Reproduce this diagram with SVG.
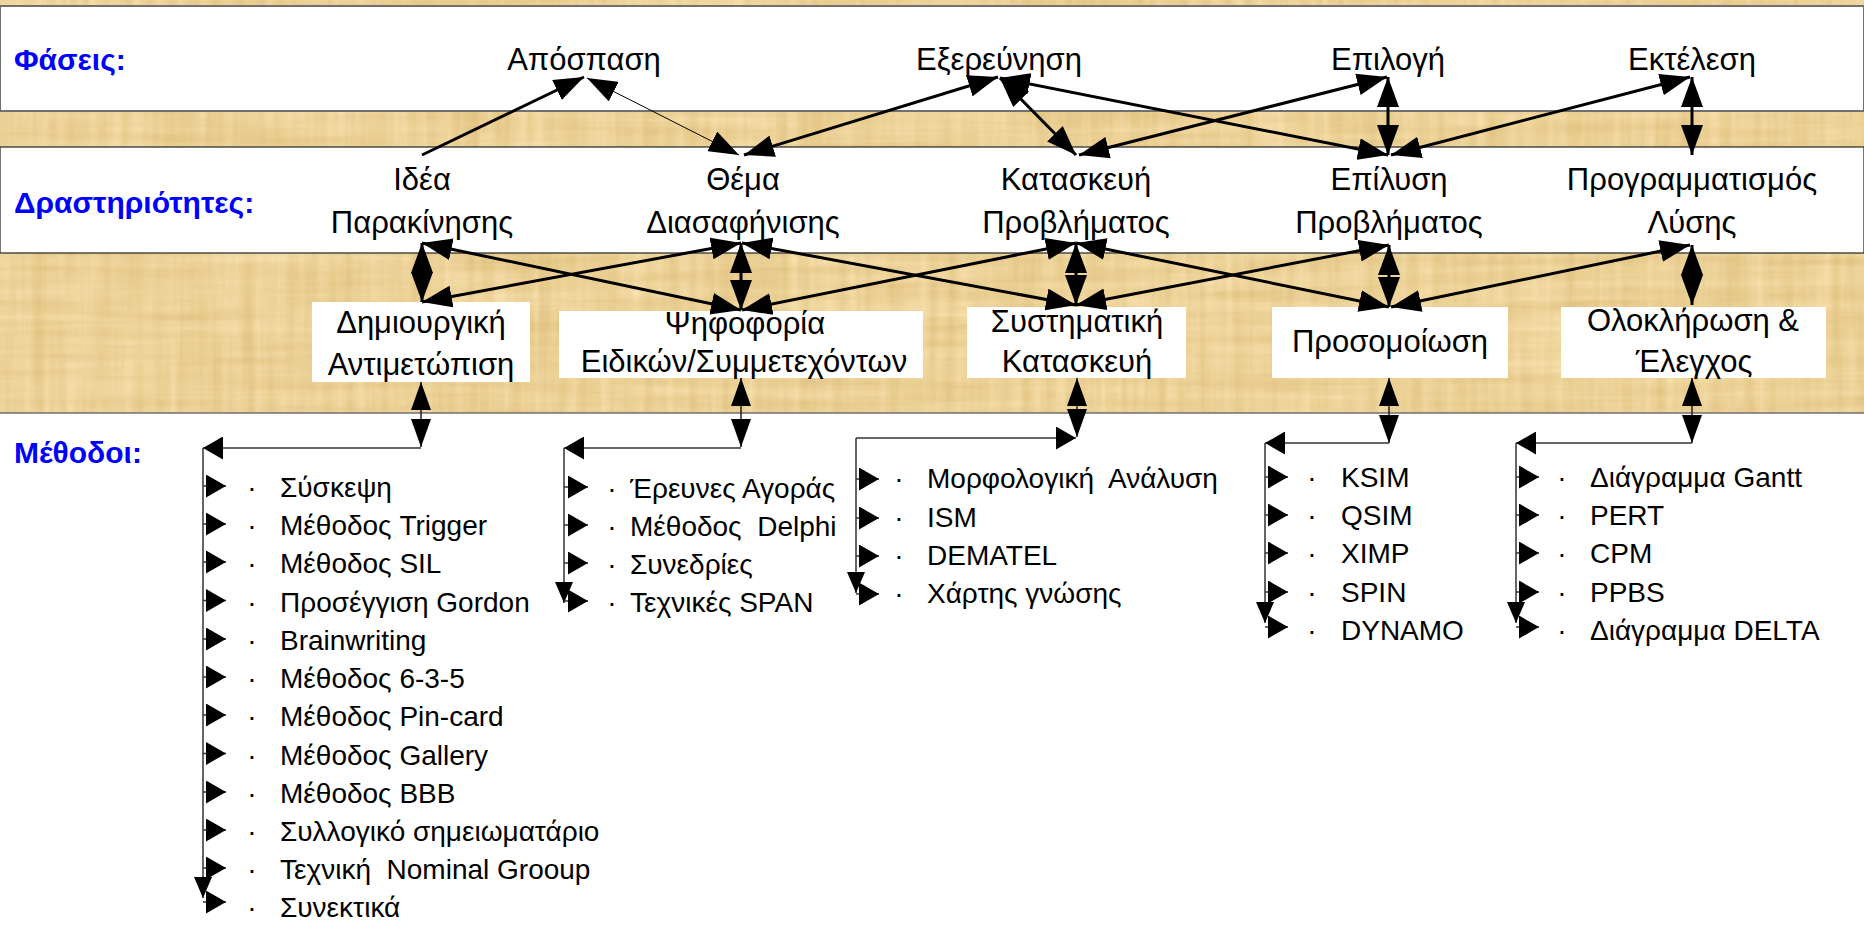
<svg xmlns="http://www.w3.org/2000/svg" width="1864" height="940" viewBox="0 0 1864 940">
<defs>
<filter id="pap" x="0" y="0" width="1" height="1" color-interpolation-filters="sRGB">
<feTurbulence type="fractalNoise" baseFrequency="0.005 0.09" numOctaves="3" seed="4" result="a"/>
<feTurbulence type="fractalNoise" baseFrequency="0.09 0.005" numOctaves="3" seed="9" result="b"/>
<feComposite in="a" in2="b" operator="arithmetic" k1="0" k2="0.5" k3="0.5" k4="0" result="c"/>
<feColorMatrix in="c" type="matrix" values="0.15 0 0 0 0.85  0.2 0 0 0 0.72  0.3 0 0 0 0.44  0 0 0 0 1"/>
</filter>
<marker id="ah" markerUnits="userSpaceOnUse" markerWidth="30" markerHeight="22" viewBox="0 0 30 22" refX="30" refY="11" orient="auto-start-reverse"><path d="M0,0 L30,11 L0,22 z" fill="#000"/></marker>
<marker id="va" markerUnits="userSpaceOnUse" markerWidth="28" markerHeight="20" viewBox="0 0 28 20" refX="28" refY="10" orient="auto-start-reverse"><path d="M0,0 L28,10 L0,20 z" fill="#000"/></marker>
<marker id="sa" markerUnits="userSpaceOnUse" markerWidth="20" markerHeight="23" viewBox="0 0 20 23" refX="20" refY="11.5" orient="auto"><path d="M0,0 L20,11.5 L0,23 z" fill="#000"/></marker>
<marker id="da" markerUnits="userSpaceOnUse" markerWidth="21" markerHeight="18" viewBox="0 0 21 18" refX="21" refY="9" orient="auto"><path d="M0,0 L21,9 L0,18 z" fill="#000"/></marker>
<style>
.lbl{font-family:"Liberation Sans",Arial,sans-serif;font-weight:bold;font-size:30px;fill:#0000FF}
.t{font-family:"Liberation Sans",Arial,sans-serif;font-size:31px;fill:#000;text-anchor:middle}
.m{font-family:"Liberation Sans",Arial,sans-serif;font-size:28px;fill:#000}
.b{font-family:"Liberation Sans",Arial,sans-serif;font-size:28px;fill:#000;text-anchor:middle}
.box{fill:#fff;stroke:none}
.c{stroke:#000;stroke-width:3;fill:none;marker-start:url(#ah);marker-end:url(#ah)}
.cs{stroke:#000;stroke-width:1;fill:none;marker-start:url(#ah);marker-end:url(#ah)}
.v{stroke:#222;stroke-width:1.5;fill:none;marker-start:url(#va);marker-end:url(#va)}
.it{stroke:#333;stroke-width:1.5;fill:none;marker-end:url(#sa)}
.dn{stroke:#333;stroke-width:1.5;fill:none;marker-end:url(#da)}
</style>
</defs>

<!-- background -->
<rect x="0" y="0" width="1864" height="940" fill="#fff"/>
<rect x="0" y="0" width="1864" height="413" filter="url(#pap)"/>
<rect x="0" y="6" width="1864" height="105" fill="#fff" stroke="#707070" stroke-width="2"/>
<rect x="0" y="147" width="1864" height="106" fill="#fff" stroke="#222" stroke-width="1.2"/>
<line x1="0" y1="413" x2="1864" y2="413" stroke="#707070" stroke-width="1.5"/>

<!-- row labels -->
<g id="label-phases"><text class="lbl" x="14" y="70">Φάσεις:</text></g>
<g id="label-activities"><text class="lbl" x="14" y="213">Δραστηριότητες:</text></g>
<g id="label-methods"><text class="lbl" x="14" y="463">Μέθοδοι:</text></g>

<!-- phases -->
<g id="phase-apospasi"><text class="t" x="584" y="70">Απόσπαση</text></g>
<g id="phase-exerevnisi"><text class="t" x="999" y="70">Εξερεύνηση</text></g>
<g id="phase-epilogi"><text class="t" x="1388" y="70">Επιλογή</text></g>
<g id="phase-ektelesi"><text class="t" x="1692" y="70">Εκτέλεση</text></g>

<!-- activities -->
<g id="act-idea"><text class="t" x="422" y="190">Ιδέα</text><text class="t" x="422" y="233">Παρακίνησης</text></g>
<g id="act-thema"><text class="t" x="743" y="190">Θέμα</text><text class="t" x="743" y="233">Διασαφήνισης</text></g>
<g id="act-kataskevi"><text class="t" x="1076" y="190">Κατασκευή</text><text class="t" x="1076" y="233">Προβλήματος</text></g>
<g id="act-epilysi"><text class="t" x="1389" y="190">Επίλυση</text><text class="t" x="1389" y="233">Προβλήματος</text></g>
<g id="act-programmatismos"><text class="t" x="1692" y="190">Προγραμματισμός</text><text class="t" x="1692" y="233">Λύσης</text></g>

<!-- method group boxes -->
<g id="box-dimiourgiki"><rect class="box" x="312" y="302" width="218" height="80"/><text class="t" x="421" y="333">Δημιουργική</text><text class="t" x="421" y="375">Αντιμετώπιση</text></g>
<g id="box-psifoforia"><rect class="box" x="559" y="311" width="364" height="67"/><text class="t" x="745" y="334">Ψηφοφορία</text><text class="t" x="744" y="372">Ειδικών/Συμμετεχόντων</text></g>
<g id="box-systimatiki"><rect class="box" x="967" y="307" width="219" height="71"/><text class="t" x="1077" y="332">Συστηματική</text><text class="t" x="1077" y="372">Κατασκευή</text></g>
<g id="box-prosomoiosi"><rect class="box" x="1272" y="307" width="236" height="71"/><text class="t" x="1390" y="352">Προσομοίωση</text></g>
<g id="box-oloklirosi"><rect class="box" x="1561" y="307" width="265" height="71"/><text class="t" x="1693" y="331">Ολοκλήρωση &amp;</text><text class="t" x="1694" y="372">Έλεγχος</text></g>

<!-- method lists -->
<g id="list-dimiourgiki">
<g class="b"><text x="252" y="497">·</text><text x="252" y="535">·</text><text x="252" y="573">·</text><text x="252" y="611.5">·</text><text x="252" y="650">·</text><text x="252" y="688">·</text><text x="252" y="726">·</text><text x="252" y="764.5">·</text><text x="252" y="803">·</text><text x="252" y="841">·</text><text x="252" y="879">·</text><text x="252" y="917">·</text></g>
<text class="m" x="280" y="497">Σύσκεψη</text>
<text class="m" x="280" y="535">Μέθοδος Trigger</text>
<text class="m" x="280" y="573">Μέθοδος SIL</text>
<text class="m" x="280" y="611.5">Προσέγγιση Gordon</text>
<text class="m" x="280" y="650">Brainwriting</text>
<text class="m" x="280" y="688">Μέθοδος 6-3-5</text>
<text class="m" x="280" y="726">Μέθοδος Pin-card</text>
<text class="m" x="280" y="764.5">Μέθοδος Gallery</text>
<text class="m" x="280" y="803">Μέθοδος BBB</text>
<text class="m" x="280" y="841">Συλλογικό σημειωματάριο</text>
<text class="m" x="280" y="879" xml:space="preserve">Τεχνική  Nominal Grooup</text>
<text class="m" x="280" y="917">Συνεκτικά</text>
</g>
<g id="list-psifoforia">
<g class="b"><text x="612" y="498">·</text><text x="612" y="536">·</text><text x="612" y="574">·</text><text x="612" y="612">·</text></g>
<text class="m" x="630" y="498">Έρευνες Αγοράς</text>
<text class="m" x="630" y="536" xml:space="preserve">Μέθοδος  Delphi</text>
<text class="m" x="630" y="574">Συνεδρίες</text>
<text class="m" x="630" y="612">Τεχνικές SPAN</text>
</g>
<g id="list-systimatiki">
<g class="b"><text x="899" y="488">·</text><text x="899" y="527">·</text><text x="899" y="565">·</text><text x="899" y="603">·</text></g>
<text class="m" x="927" y="488" xml:space="preserve">Μορφολογική  Ανάλυση</text>
<text class="m" x="927" y="527">ISM</text>
<text class="m" x="927" y="565">DEMATEL</text>
<text class="m" x="927" y="603">Χάρτης γνώσης</text>
</g>
<g id="list-prosomoiosi">
<g class="b"><text x="1312" y="487">·</text><text x="1312" y="525">·</text><text x="1312" y="563">·</text><text x="1312" y="602">·</text><text x="1312" y="640">·</text></g>
<text class="m" x="1341" y="487">KSIM</text>
<text class="m" x="1341" y="525">QSIM</text>
<text class="m" x="1341" y="563">XIMP</text>
<text class="m" x="1341" y="602">SPIN</text>
<text class="m" x="1341" y="640">DYNAMO</text>
</g>
<g id="list-oloklirosi">
<g class="b"><text x="1562" y="487">·</text><text x="1562" y="525">·</text><text x="1562" y="563">·</text><text x="1562" y="602">·</text><text x="1562" y="640">·</text></g>
<text class="m" x="1590" y="487">Διάγραμμα Gantt</text>
<text class="m" x="1590" y="525">PERT</text>
<text class="m" x="1590" y="563">CPM</text>
<text class="m" x="1590" y="602">PPBS</text>
<text class="m" x="1590" y="640">Διάγραμμα DELTA</text>
</g>

<!-- connectors -->
<g id="connectors">
<!-- phases <-> activities -->
<line x1="422" y1="155" x2="584" y2="77" stroke="#000" stroke-width="3" marker-end="url(#ah)"/>
<line class="cs" x1="739" y1="155" x2="587" y2="78"/>
<line class="c" x1="744" y1="155" x2="998" y2="77"/>
<line class="c" x1="1076" y1="155" x2="1000" y2="78"/>
<line class="c" x1="1388" y1="155" x2="1000" y2="78"/>
<line class="c" x1="1079" y1="155" x2="1387" y2="77"/>
<line class="c" x1="1388" y1="155" x2="1388" y2="77"/>
<line class="c" x1="1391" y1="155" x2="1690" y2="77"/>
<line class="c" x1="1692" y1="155" x2="1692" y2="77"/>
<!-- activities <-> method groups -->
<line class="c" x1="422" y1="243" x2="422" y2="302"/>
<line class="c" x1="422" y1="243" x2="741" y2="310"/>
<line class="c" x1="422" y1="302" x2="741" y2="243"/>
<line class="c" x1="741" y1="243" x2="741" y2="310"/>
<line class="c" x1="742" y1="243" x2="1076" y2="305"/>
<line class="c" x1="742" y1="310" x2="1076" y2="243"/>
<line class="c" x1="1076" y1="243" x2="1076" y2="305"/>
<line class="c" x1="1076" y1="243" x2="1389" y2="307"/>
<line class="c" x1="1076" y1="305" x2="1389" y2="245"/>
<line class="c" x1="1389" y1="245" x2="1389" y2="307"/>
<line class="c" x1="1391" y1="307" x2="1690" y2="245"/>
<line class="c" x1="1692" y1="245" x2="1692" y2="305"/>
<!-- method group boxes -> lists -->
<line class="v" x1="421" y1="382" x2="421" y2="447"/>
<line class="it" x1="421" y1="448" x2="203" y2="448"/>
<line class="dn" x1="203" y1="448" x2="203" y2="898"/>
<line class="it" x1="203" y1="486" x2="226" y2="486"/>
<line class="it" x1="203" y1="524" x2="226" y2="524"/>
<line class="it" x1="203" y1="562" x2="226" y2="562"/>
<line class="it" x1="203" y1="600.5" x2="226" y2="600.5"/>
<line class="it" x1="203" y1="639" x2="226" y2="639"/>
<line class="it" x1="203" y1="677" x2="226" y2="677"/>
<line class="it" x1="203" y1="715" x2="226" y2="715"/>
<line class="it" x1="203" y1="753.5" x2="226" y2="753.5"/>
<line class="it" x1="203" y1="792" x2="226" y2="792"/>
<line class="it" x1="203" y1="830" x2="226" y2="830"/>
<line class="it" x1="203" y1="868" x2="226" y2="868"/>
<line class="it" x1="203" y1="902" x2="226" y2="902"/>

<line class="v" x1="741" y1="378" x2="741" y2="447"/>
<line class="it" x1="741" y1="448" x2="564" y2="448"/>
<line class="dn" x1="564" y1="448" x2="564" y2="603"/>
<line class="it" x1="564" y1="487" x2="588" y2="487"/>
<line class="it" x1="564" y1="525" x2="588" y2="525"/>
<line class="it" x1="564" y1="563" x2="588" y2="563"/>
<line class="it" x1="564" y1="601" x2="588" y2="601"/>

<line class="v" x1="1077" y1="378" x2="1077" y2="437"/>
<line class="it" x1="856" y1="438" x2="1076" y2="438"/>
<line class="dn" x1="856" y1="438" x2="856" y2="593"/>
<line class="it" x1="856" y1="479" x2="879" y2="479"/>
<line class="it" x1="856" y1="518" x2="879" y2="518"/>
<line class="it" x1="856" y1="556" x2="879" y2="556"/>
<line class="it" x1="856" y1="594" x2="879" y2="594"/>

<line class="v" x1="1389" y1="378" x2="1389" y2="443"/>
<line class="it" x1="1389" y1="443" x2="1265" y2="443"/>
<line class="dn" x1="1265" y1="443" x2="1265" y2="623"/>
<line class="it" x1="1265" y1="477" x2="1288" y2="477"/>
<line class="it" x1="1265" y1="515" x2="1288" y2="515"/>
<line class="it" x1="1265" y1="553" x2="1288" y2="553"/>
<line class="it" x1="1265" y1="592" x2="1288" y2="592"/>
<line class="it" x1="1265" y1="627" x2="1288" y2="627"/>

<line class="v" x1="1692" y1="378" x2="1692" y2="443"/>
<line class="it" x1="1692" y1="443" x2="1516" y2="443"/>
<line class="dn" x1="1516" y1="443" x2="1516" y2="623"/>
<line class="it" x1="1516" y1="477" x2="1539" y2="477"/>
<line class="it" x1="1516" y1="515" x2="1539" y2="515"/>
<line class="it" x1="1516" y1="553" x2="1539" y2="553"/>
<line class="it" x1="1516" y1="592" x2="1539" y2="592"/>
<line class="it" x1="1516" y1="627" x2="1539" y2="627"/>
</g>
</svg>
